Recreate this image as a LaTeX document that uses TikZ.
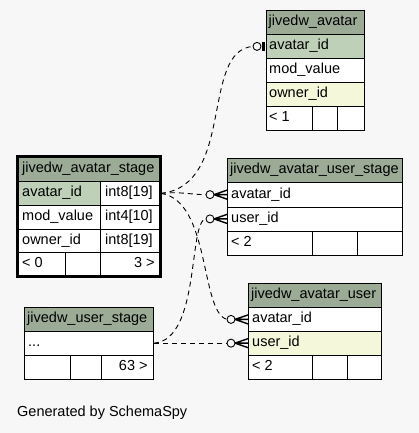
\documentclass[tikz,border=0pt]{standalone}
\usepackage{fontspec}
\setmainfont{Liberation Sans}
\usetikzlibrary{calc}
\definecolor{bgc}{HTML}{F7F7F7}
\definecolor{hdr}{HTML}{9BAB96}
\definecolor{keyc}{HTML}{BED1B8}
\definecolor{idxc}{HTML}{F4F7DA}
\newcommand\mkcell[6]{\node[cell, fill=#6, minimum width=#4pt, minimum height=#5pt] (#1) at (#2,#3) {};}
\newcommand\celltextL[3][3pt]{\node[txt, anchor=west] (#2t) at ([xshift=#1]#2.west) {#3};}
\newcommand\celltextR[3][6pt]{\node[txt, anchor=east] (#2t) at ([xshift=-#1]#2.east) {#3};}
\newcommand\crowfoot[1]{%
  \draw[crowl] ($(#1)+(-13,0)$) -- ($(#1)+(0,-4.5)$)
               ($(#1)+(-13,0)$) -- (#1)
               ($(#1)+(-13,0)$) -- ($(#1)+(0,4.5)$);
  \draw[line width=0.9pt] ($(#1)+(-17,0)$) circle (4pt);}
\begin{document}
\begin{tikzpicture}[x=1pt,y=-1pt,
  cell/.style={draw=black, line width=0.8pt, anchor=north west, inner sep=0pt},
  txt/.style={inner sep=0pt, font=\fontsize{14.5}{16}\selectfont, text height=10pt, text depth=3pt},
  rel/.style={dash pattern=on 5pt off 4pt, line width=0.9pt},
  crowl/.style={line width=1.4pt}]
\fill[bgc] (0,0) rectangle (419,433);
\useasboundingbox (0,0) rectangle (419,433);

% jivedw_avatar
\mkcell{a-h}{266}{10}{98}{24}{hdr}\celltextL[2.5pt]{a-h}{jivedw\_avatar}
\mkcell{a-1}{266}{34}{98}{24}{keyc}\celltextL{a-1}{avatar\_id}
\mkcell{a-2}{266}{58}{98}{24}{white}\celltextL{a-2}{mod\_value}
\mkcell{a-3}{266}{82}{98}{24}{idxc}\celltextL{a-3}{owner\_id}
\mkcell{a-f1}{266}{106}{46}{24}{white}\celltextL{a-f1}{< 1}
\mkcell{a-f2}{312}{106}{25}{24}{white}
\mkcell{a-f3}{337}{106}{27}{24}{white}

% jivedw_avatar_stage
\mkcell{s-h}{17}{156}{143}{25}{hdr}\celltextL[5pt]{s-h}{jivedw\_avatar\_stage}
\mkcell{s-1a}{17}{181}{83}{24}{keyc}\celltextL[5pt]{s-1a}{avatar\_id}
\mkcell{s-1b}{100}{181}{60}{24}{white}\celltextL[5pt]{s-1b}{int8[19]}
\mkcell{s-2a}{17}{205}{83}{23.5}{white}\celltextL[5pt]{s-2a}{mod\_value}
\mkcell{s-2b}{100}{205}{60}{23.5}{white}\celltextL[5pt]{s-2b}{int4[10]}
\mkcell{s-3a}{17}{228.5}{83}{23.5}{white}\celltextL[5pt]{s-3a}{owner\_id}
\mkcell{s-3b}{100}{228.5}{60}{23.5}{white}\celltextL[5pt]{s-3b}{int8[19]}
\mkcell{s-f1}{17}{252}{48}{23.5}{white}\celltextL[5pt]{s-f1}{< 0}
\mkcell{s-f2}{65}{252}{35}{23.5}{white}
\mkcell{s-f3}{100}{252}{60}{23.5}{white}\celltextR{s-f3}{3 >}
\draw[line width=3pt] (s-h.north west) rectangle (s-f3.south east);

% jivedw_avatar_user_stage
\mkcell{as-h}{227}{158}{175}{24}{hdr}\celltextL{as-h}{jivedw\_avatar\_user\_stage}
\mkcell{as-1}{227}{182}{175}{24.5}{white}\celltextL[4pt]{as-1}{avatar\_id}
\mkcell{as-2}{227}{206.5}{175}{24}{white}\celltextL[4pt]{as-2}{user\_id}
\mkcell{as-f1}{227}{230.5}{85}{24}{white}\celltextL[4pt]{as-f1}{< 2}
\mkcell{as-f2}{312}{230.5}{45}{24}{white}
\mkcell{as-f3}{357}{230.5}{45}{24}{white}

% jivedw_avatar_user
\mkcell{av-h}{248}{283}{133}{24}{hdr}\celltextL{av-h}{jivedw\_avatar\_user}
\mkcell{av-1}{248}{307}{133}{24}{white}\celltextL[4pt]{av-1}{avatar\_id}
\mkcell{av-2}{248}{331}{133}{23.5}{idxc}\celltextL[4pt]{av-2}{user\_id}
\mkcell{av-f1}{248}{354.5}{64}{24}{white}\celltextL[4pt]{av-f1}{< 2}
\mkcell{av-f2}{312}{354.5}{35}{24}{white}
\mkcell{av-f3}{347}{354.5}{34}{24}{white}

% jivedw_user_stage
\mkcell{u-h}{24}{307}{129}{24}{hdr}\celltextL{u-h}{jivedw\_user\_stage}
\mkcell{u-1}{24}{331}{129}{23.5}{white}\celltextL[4pt]{u-1}{...}
\mkcell{u-f1}{24}{354.5}{46}{24}{white}
\mkcell{u-f2}{70}{354.5}{31}{24}{white}
\mkcell{u-f3}{101}{354.5}{52}{24}{white}\celltextR{u-f3}{63 >}

\node[txt, anchor=west] (gen) at (17,413) {Generated by SchemaSpy};

% connector end points
\coordinate (e1) at ($(a-1.west)+(-13,0)$);
\coordinate (e2) at ($(as-1.west)+(-21,0)$);
\coordinate (e3) at ($(av-1.west)+(-21,0)$);
\coordinate (e4) at ($(as-2.west)+(-21,0)$);
\coordinate (e5) at ($(av-2.west)+(-21,0)$);

% connectors
\draw[rel] (s-1b.east) .. controls +(75,-8) and +(-53,4) .. (e1);
\draw[rel] (s-1b.east) .. controls +(20,-2) and +(-15,0) .. (e2);
\draw[rel] (s-1b.east) .. controls +(50,7) and +(-27,-7) .. (e3);
\draw[rel] (u-1.east) .. controls +(47,-3) and +(-18,1.5) .. (e4);
\draw[rel] (u-1.east) -- (e5);

% markers
\draw[line width=0.9pt] ($(a-1.west)+(-9,0)$) circle (4pt);
\draw[line width=3pt] ($(a-1.west)+(-3,-4.5)$) -- ($(a-1.west)+(-3,4.5)$);
\crowfoot{as-1.west}
\crowfoot{av-1.west}
\crowfoot{as-2.west}
\crowfoot{av-2.west}
\end{tikzpicture}
\end{document}
